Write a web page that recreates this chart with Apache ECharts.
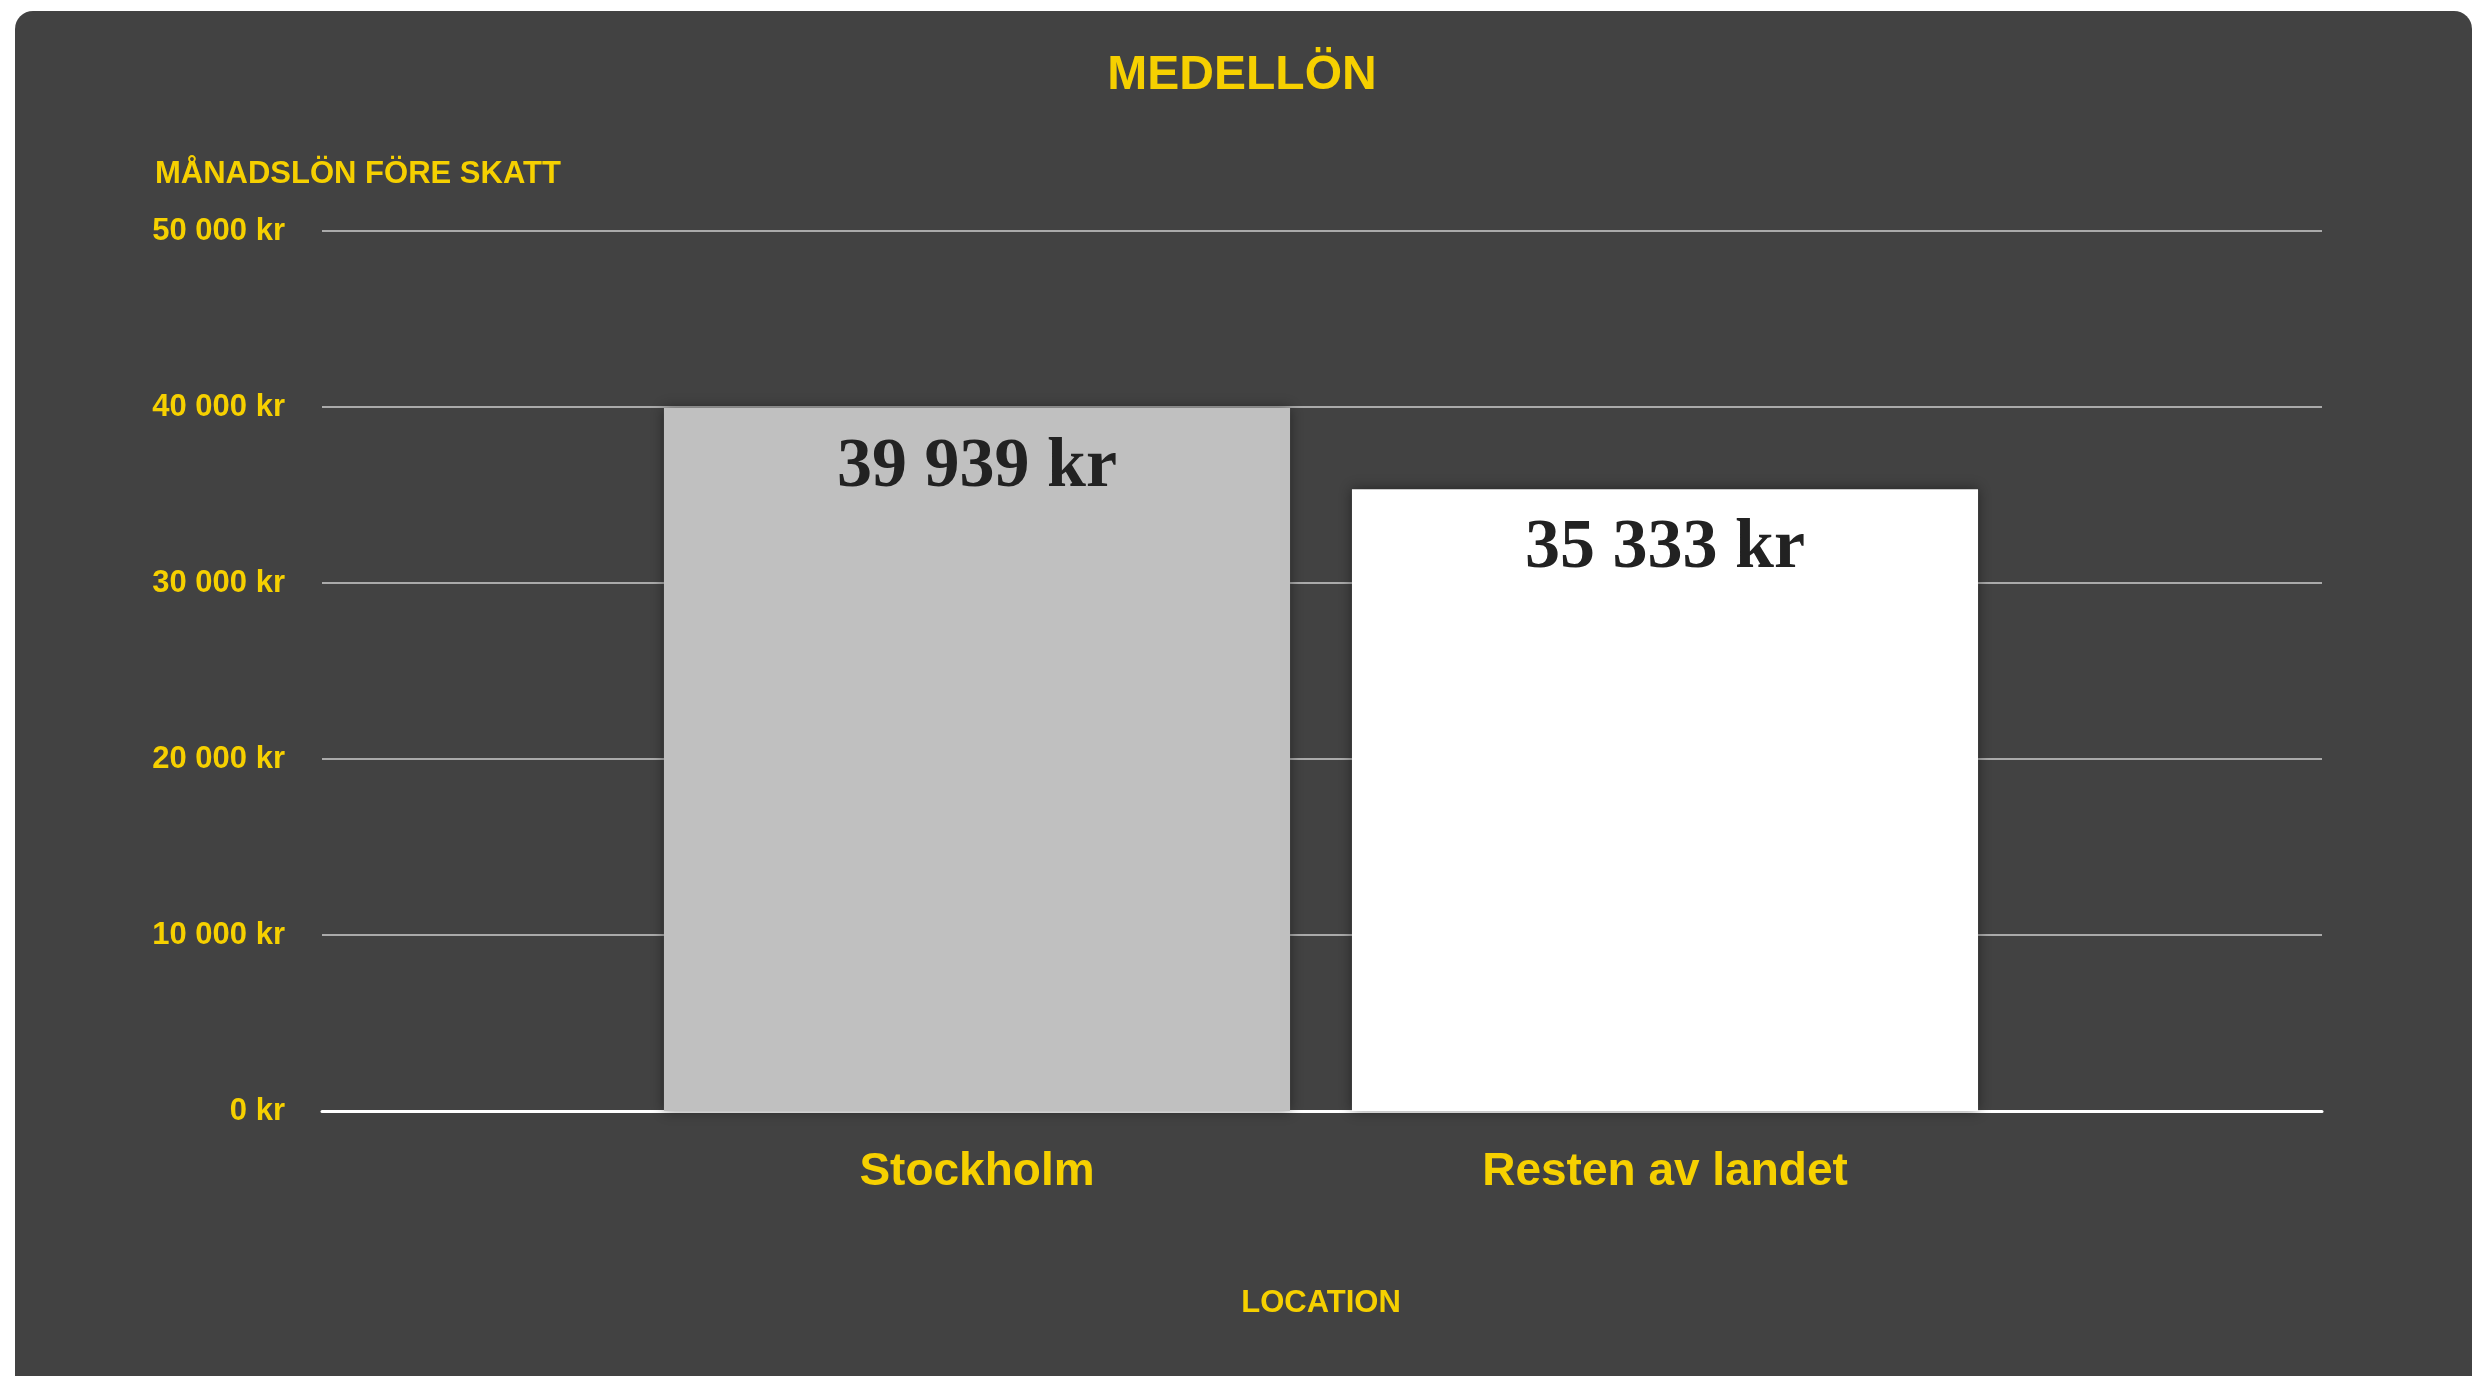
<!DOCTYPE html>
<html>
<head>
<meta charset="utf-8">
<title>Medellön</title>
<script src="https://cdn.jsdelivr.net/npm/echarts@6/dist/echarts.min.js"></script>
<style>
  html, body { margin: 0; padding: 0; background: #ffffff; overflow: hidden; }
  #card {
    position: absolute; left: 15px; top: 11px; width: 2457px; height: 1420px;
    background: #424242; border-radius: 18px;
  }
  #chart { position: absolute; left: 0; top: 0; width: 2484px; height: 1376px; }
</style>
</head>
<body>
<div id="card"></div>
<div id="chart"></div>
<script>
// data
const categories = ['Stockholm', 'Resten av landet'];
const salaries = [39939, 35333];
const barColors = ['#c0c0c0', '#ffffff'];
const yTicks = [0, 10000, 20000, 30000, 40000, 50000];

const yellow = '#f6d000';
const sans = 'Liberation Sans, Arial, Helvetica, sans-serif';

// "39939" -> "39 939 kr"
function kr(v) {
  return String(v).replace(/\B(?=(\d{3})+(?!\d))/g, ' ') + ' kr';
}

const chart = echarts.init(document.getElementById('chart'), null, { renderer: 'canvas' });

chart.setOption({
  backgroundColor: 'transparent',
  animation: false,
  title: [
    {
      text: 'MEDELLÖN', left: 'center', top: 47,
      textStyle: { color: yellow, fontFamily: sans, fontWeight: 'bold', fontSize: 48, lineHeight: 48 }
    },
    {
      text: 'MÅNADSLÖN FÖRE SKATT', left: 150, top: 154,
      textStyle: { color: yellow, fontFamily: sans, fontWeight: 'bold', fontSize: 31, lineHeight: 31 }
    }
  ],
  // grid 0: y axis + gridlines over the full width, grid 1: bars
  grid: [
    { left: 322, right: 162, top: 231, bottom: 265 },
    { left: 633, right: 475, top: 231, bottom: 265 }
  ],
  xAxis: [
    {
      gridIndex: 0, type: 'category', data: [''],
      axisLine: { show: true, lineStyle: { color: '#ffffff', width: 3 } },
      axisTick: { show: false }, axisLabel: { show: false }
    },
    {
      gridIndex: 1, type: 'category', data: categories,
      name: 'LOCATION', nameLocation: 'middle', nameGap: 177,
      nameTextStyle: { color: yellow, fontFamily: sans, fontWeight: 'bold', fontSize: 31 },
      axisLine: { show: false }, axisTick: { show: false },
      axisLabel: { color: yellow, fontFamily: sans, fontWeight: 'bold', fontSize: 46, margin: 38 }
    }
  ],
  yAxis: [
    {
      gridIndex: 0, type: 'value',
      min: yTicks[0], max: yTicks[yTicks.length - 1], interval: yTicks[1] - yTicks[0],
      axisLine: { show: false }, axisTick: { show: false },
      axisLabel: {
        color: yellow, fontFamily: sans, fontWeight: 'bold', fontSize: 31, margin: 37,
        padding: [6, 0, 0, 0],
        formatter: kr
      },
      splitLine: { lineStyle: { color: '#aaaaaa', width: 2 } }
    },
    {
      gridIndex: 1, type: 'value',
      min: yTicks[0], max: yTicks[yTicks.length - 1],
      show: false
    }
  ],
  series: [
    {
      type: 'bar', xAxisIndex: 1, yAxisIndex: 1,
      barCategoryGap: '9%',
      data: salaries.map((v, i) => ({
        value: v,
        itemStyle: {
          color: barColors[i],
          shadowBlur: 12, shadowColor: 'rgba(0,0,0,0.45)'
        }
      })),
      label: {
        show: true, position: 'insideTop', distance: 25,
        color: '#222222', fontFamily: 'Liberation Serif, Times New Roman, serif',
        fontWeight: 'bold', fontSize: 70, lineHeight: 70,
        formatter: p => kr(p.value)
      }
    }
  ]
});

window.addEventListener('resize', () => chart.resize());
</script>
</body>
</html>
